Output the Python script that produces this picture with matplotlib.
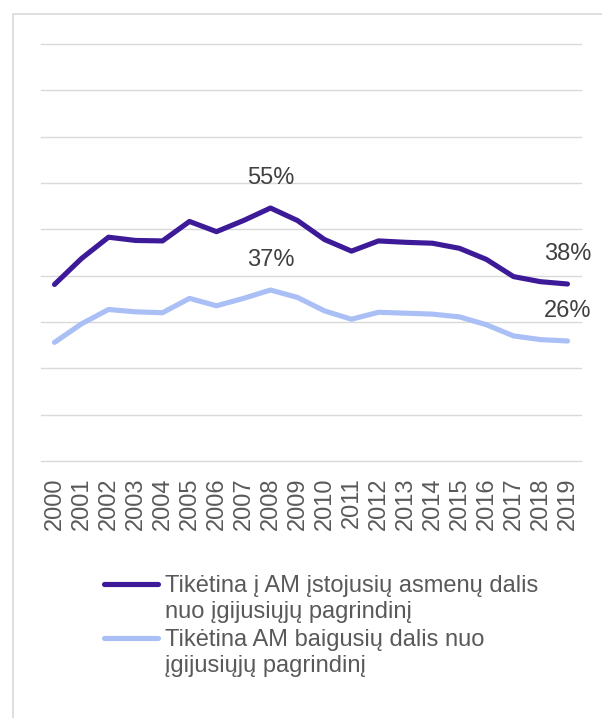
import matplotlib.pyplot as plt
from matplotlib.lines import Line2D
from matplotlib.patches import Rectangle

plt.rcParams['font.family'] = ['Liberation Sans', 'DejaVu Sans']

years = [str(y) for y in range(2000, 2020)]
entered = [38.1, 43.7, 48.3, 47.6, 47.5, 51.7, 49.5, 51.9, 54.6, 51.9,
           47.8, 45.3, 47.5, 47.2, 47.0, 45.9, 43.5, 39.8, 38.7, 38.2]
graduated = [25.6, 29.6, 32.7, 32.2, 32.0, 35.1, 33.5, 35.1, 36.9, 35.3,
             32.4, 30.6, 32.1, 31.9, 31.7, 31.1, 29.4, 27.0, 26.2, 25.9]
labels = ['Tikėtina į AM įstojusių asmenų dalis\nnuo įgijusiųjų pagrindinį',
          'Tikėtina AM baigusių dalis nuo\nįgijusiųjų pagrindinį']
labelled = [8, 19]

colors = ['#3d1a98', '#a9bff6']
W, H = 602, 718

fig = plt.figure(figsize=(W / 100, H / 100), dpi=100)

# outer chart border (cut off on right and bottom)
fig.add_artist(Rectangle((12.5 / W, -0.1), 2.0, 1 - 14 / H + 0.1,
                         transform=fig.transFigure, fill=False,
                         edgecolor='#d9d9d9', lw=1.2))

ax = fig.add_axes([41 / W, 1 - 461 / H, 540 / W, 417 / H])
ax.set_facecolor('none')
x = list(range(len(years)))

for vals, c in zip([entered, graduated], colors):
    ax.plot(x, vals, color=c, lw=3.7, solid_capstyle='round',
            solid_joinstyle='round', zorder=3)
    for i in labelled:
        ax.annotate(f'{round(vals[i])}%', (i, vals[i]), xytext=(0, 21.6),
                    textcoords='offset points', ha='center', va='center',
                    fontsize=17, color='#404040', zorder=4)

ax.set_xlim(-0.5, len(years) - 0.5)
ax.set_ylim(0, 90)
ax.set_yticks(range(0, 100, 10))
ax.yaxis.grid(True, color='#d9d9d9', lw=1.0)
for gl in ax.yaxis.get_gridlines():
    gl.set_clip_on(False)
ax.set_axisbelow(True)
ax.tick_params(axis='y', length=0, labelleft=False)
ax.set_xticks(x)
ax.set_xticklabels(years, rotation=90, fontsize=17, color='#595959')
ax.tick_params(axis='x', length=0, pad=12)
for s in ax.spines.values():
    s.set_visible(False)

# legend, handle aligned with first text line
for lab, c, yy in zip(labels, colors, [584, 638]):
    fig.add_artist(Line2D([104 / W, 158 / W], [1 - yy / H, 1 - yy / H],
                          transform=fig.transFigure, color=c, lw=3.7,
                          solid_capstyle='round'))
    fig.text(165 / W, 1 - (yy - 9) / H, lab, ha='left', va='top',
             fontsize=17, color='#595959', linespacing=1.25)

fig.savefig('out.png', dpi=100)
